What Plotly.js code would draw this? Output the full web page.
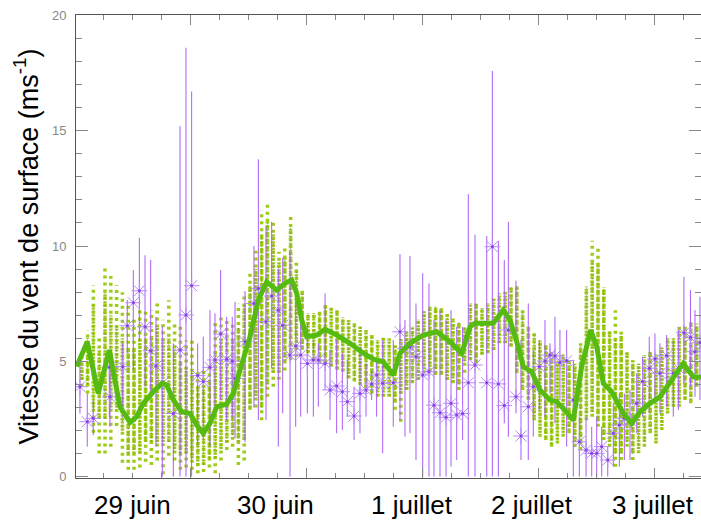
<!DOCTYPE html>
<html><head><meta charset="utf-8">
<script src="https://cdn.plot.ly/plotly-3.0.1.min.js"></script>
<style>html,body{margin:0;padding:0;background:#fff}#chart{width:701px;height:520px}</style>
</head><body><div id="chart"></div>
<script>
// x in days from the left edge of the plot (28 juin ~ 24h)
const dayLabels = ['29 juin','30 juin','1 juillet','2 juillet','3 juillet'];
const dayLabelPos = [0.491,1.716,2.897,3.931,4.974];
const yTickVals = [0,5,10,15,20];

// ensemble columns
const ensT = [0.05,0.10,0.15,0.20,0.25,0.30,0.35,0.40,0.45,0.50,
0.55,0.60,0.65,0.70,0.75,0.80,0.85,0.90,0.95,1.00,
1.05,1.10,1.15,1.20,1.25,1.30,1.35,1.40,1.45,1.50,
1.55,1.60,1.65,1.70,1.75,1.80,1.85,1.90,1.95,2.00,
2.05,2.10,2.15,2.20,2.25,2.30,2.35,2.40,2.45,2.50,
2.55,2.60,2.65,2.70,2.75,2.80,2.85,2.90,2.95,3.00,
3.05,3.10,3.15,3.20,3.25,3.30,3.35,3.40,3.45,3.50,
3.55,3.60,3.65,3.70,3.75,3.80,3.85,3.90,3.95,4.00,
4.05,4.10,4.15,4.20,4.25,4.30,4.35,4.40,4.45,4.50,
4.55,4.60,4.65,4.70,4.75,4.80,4.85,4.90,4.95,5.00,
5.05,5.10,5.15,5.20,5.25,5.30,5.35];
const ensMin = [3.9,3.6,1.9,1.0,1.0,1.3,2.2,0.6,0.3,0.3,
0.4,0.65,0.5,0.7,0.1,0.9,0.7,0.3,0.4,0.3,
0.15,0.2,0.4,0.15,0.7,1.15,1.3,0.5,0.7,2.9,
3.0,2.45,3.46,3.9,4.2,4.6,5.06,5.2,5.5,5.35,
5.06,4.91,4.91,4.77,4.62,4.55,4.26,4.12,3.97,3.83,
3.61,3.46,3.46,3.46,2.9,2.38,3.76,4.05,4.19,4.48,
4.55,4.41,4.41,4.19,4.05,3.76,4.5,5.06,4.91,5.3,
5.35,5.49,5.78,5.78,5.63,4.48,3.76,3.32,2.45,1.73,
1.59,1.30,1.44,1.73,1.88,1.30,1.15,2.45,2.6,2.16,
1.59,1.30,0.43,0.72,1.30,0.72,1.01,1.30,1.88,1.44,
2.02,2.74,3.03,3.03,3.32,3.18,3.9];
const ensLo = [4.2,4.0,3.0,2.5,2.5,3.0,3.0,2.0,1.0,1.0,
1.0,1.5,1.5,1.5,1.5,1.5,1.2,1.0,1.0,0.8,
0.5,0.5,0.8,0.8,1.2,1.5,1.8,1.5,1.6,3.0,
3.5,3.0,4.0,4.5,4.5,5.0,5.5,5.5,5.6,5.4,
5.1,5.0,5.0,4.8,4.7,4.6,4.3,4.2,4.0,3.9,
3.7,3.5,3.5,3.5,3.3,3.6,3.8,4.1,4.2,4.5,
4.6,4.5,4.5,4.2,4.1,4.0,5.0,5.1,5.0,5.3,
5.4,5.5,5.8,5.8,5.7,4.6,3.9,3.4,2.6,1.9,
1.7,1.4,1.6,1.9,2.0,1.5,1.4,2.6,2.8,2.4,
1.8,1.5,1.0,1.0,1.5,1.0,1.2,1.5,2.0,1.6,
2.2,2.9,3.2,3.2,3.4,3.3,4.0];
const ensHi = [5.0,6.0,7.5,5.5,8.0,7.0,6.5,6.0,5.5,5.5,
6.0,6.0,6.0,6.5,6.0,6.0,5.5,5.0,4.8,4.5,
4.0,4.0,4.2,5.5,6.0,6.0,6.0,6.5,7.5,8.3,
9.0,10.5,11.1,10.5,9.3,9.5,10.8,9.0,8.0,7.1,
7.1,7.1,7.4,7.3,7.2,6.9,6.7,6.6,6.5,6.3,
6.1,5.9,6.0,5.9,5.7,6.0,6.2,6.5,6.8,7.2,
7.3,7.4,7.3,7.0,6.8,6.7,6.5,7.5,7.5,7.3,
7.5,7.7,7.9,8.0,8.2,8.2,7.2,6.5,6.2,5.9,
5.7,5.4,5.0,5.3,5.0,4.9,5.7,8.2,9.3,9.2,
8.2,6.3,6.0,6.2,5.4,5.0,4.9,5.2,5.4,5.3,
5.6,6.0,6.0,6.4,6.5,6.7,6.6];
const ensMax = [5.2,6.35,8.3,6.1,9.1,8.7,8.3,8.0,7.5,6.9,
7.2,7.2,7.2,7.65,6.8,7.65,6.65,6.5,5.9,6.0,
4.6,4.6,4.8,6.8,6.9,6.8,6.65,7.5,8.0,8.9,
9.8,11.56,11.85,11.05,9.75,9.9,11.27,9.4,8.1,7.15,
7.15,7.15,7.44,7.37,7.22,6.93,6.79,6.65,6.5,6.36,
6.14,5.92,6.07,6.0,5.7,6.0,6.28,6.5,6.86,7.22,
7.37,7.44,7.3,7.08,6.86,6.72,6.6,7.51,7.51,7.37,
7.51,7.73,7.95,8.02,8.24,8.31,7.22,6.5,6.28,5.92,
5.78,5.49,5.06,5.35,5.06,4.91,5.78,8.24,10.23,9.97,
8.24,6.36,7.22,6.28,5.49,5.06,4.91,5.27,5.49,5.35,
5.63,6.07,6.07,6.5,6.57,6.79,6.65];

// ensemble mean
const meanT = [0.006,0.097,0.192,0.287,0.379,0.466,0.523,0.580,0.666,0.744,
0.782,0.839,0.911,0.983,1.041,1.097,1.155,1.213,1.299,1.356,
1.414,1.500,1.572,1.644,1.730,1.802,1.859,1.903,1.946,1.989,
2.075,2.147,2.247,2.362,2.477,2.563,2.649,2.735,2.793,2.879,
2.994,3.109,3.224,3.325,3.397,3.440,3.541,3.597,3.684,3.741,
3.813,3.856,3.928,4.000,4.086,4.144,4.201,4.287,4.359,4.437,
4.489,4.546,4.618,4.718,4.790,4.862,4.948,5.034,5.135,5.235,
5.322,5.388];
const meanV = [4.77,5.85,3.61,5.49,3.03,2.35,2.60,3.18,3.68,4.05,
3.97,3.32,2.81,2.74,2.24,1.88,2.31,3.03,3.15,3.61,
4.62,6.07,7.66,8.45,8.09,8.38,8.53,7.95,6.79,6.07,
6.14,6.39,6.14,5.78,5.35,5.09,4.98,4.41,5.35,5.78,
6.14,6.28,5.85,5.35,6.50,6.65,6.65,6.65,7.22,6.79,
5.63,4.77,4.55,3.76,3.32,3.25,2.96,2.45,4.77,6.36,
5.63,4.05,3.68,2.74,2.31,2.81,3.18,3.46,4.19,4.91,
4.33,4.31];

// observations
const obsT = [0.034,0.097,0.149,0.287,0.293,0.403,0.442,0.494,0.546,0.595,
0.644,0.690,0.744,0.839,0.897,0.948,0.997,1.049,1.097,1.155,
1.198,1.247,1.299,1.347,1.371,1.457,1.534,1.572,1.638,1.687,
1.744,1.782,1.845,1.894,1.937,1.994,2.046,2.089,2.147,2.190,
2.247,2.296,2.339,2.397,2.448,2.500,2.549,2.592,2.644,2.735,
2.793,2.836,2.879,2.931,2.989,3.043,3.086,3.138,3.190,3.233,
3.282,3.333,3.382,3.440,3.541,3.589,3.641,3.692,3.727,3.793,
3.836,3.899,3.942,3.994,4.043,4.086,4.129,4.172,4.230,4.287,
4.339,4.397,4.446,4.489,4.532,4.584,4.632,4.684,4.727,4.776,
4.834,4.885,4.942,4.991,5.034,5.092,5.149,5.193,5.241,5.297,
5.336,5.379];
const obsV = [3.90,2.38,2.53,4.74,3.46,4.77,6.54,7.54,8.06,6.50,
5.46,4.80,4.05,2.74,5.49,7.01,8.28,4.38,4.12,4.74,
5.06,6.18,5.09,5.01,4.26,5.85,7.51,8.16,6.72,7.83,
7.22,6.57,5.27,5.66,5.27,4.91,5.06,5.06,4.91,3.76,
3.93,3.68,3.25,2.63,3.61,3.76,4.02,4.41,4.05,4.07,
6.28,5.56,5.63,5.20,4.41,4.55,3.10,2.77,2.57,3.18,
2.67,2.74,4.07,4.84,4.07,9.97,4.02,3.08,6.36,3.46,
1.76,3.03,3.90,4.77,5.01,5.27,5.23,4.95,5.03,3.32,
1.51,1.15,1.01,1.01,1.30,0.72,1.88,2.24,2.53,2.45,
3.18,4.12,4.70,5.10,4.48,5.24,4.48,4.70,6.24,6.04,
5.42,5.81];
const obsLo = [2.74,1.30,1.80,2.60,2.16,2.60,5.35,4.62,5.92,3.90,
3.61,1.30,0,0,0,0,0,1.30,1.59,1.30,
2.89,3.32,2.45,2.60,1.66,1.50,3.00,2.45,2.45,4.70,
1.30,2.74,0,2.16,2.60,2.74,2.60,3.03,3.76,2.45,
1.88,2.02,2.60,1.59,1.88,2.60,3.32,2.60,1.01,2.16,
2.45,1.73,1.88,0.72,0,0,0,0,0,0.43,
0.72,1.59,0,0,0,0,0,2.31,1.73,2.74,
0.72,0.72,1.73,2.89,2.60,3.61,2.31,3.32,1.30,0,
0,0,0,0,0,0,0.43,0.43,0.72,0.72,
1.88,2.60,2.74,3.32,2.74,3.03,2.60,2.89,4.05,3.90,
3.46,3.32];
const obsHi = [4.91,3.61,3.32,5.35,4.62,5.78,7.66,8.96,10.36,9.60,
9.40,6.93,6.50,5.78,15.2,18.6,16.7,5.78,6.07,7.22,
7.08,8.96,6.93,6.93,7.58,8.04,10.0,13.76,10.84,11.05,
9.00,9.50,9.80,7.95,7.22,6.65,5.92,5.78,7.95,5.49,
5.92,5.35,5.06,3.90,5.63,4.91,4.62,5.06,5.92,5.92,
9.65,6.79,9.57,7.51,8.82,8.38,6.79,7.22,6.79,7.22,
6.50,6.50,12.25,10.50,10.43,17.6,10.23,9.40,11.05,8.50,
5.92,7.51,5.49,5.92,6.79,5.78,6.93,6.36,6.36,5.06,
2.60,2.60,2.16,2.60,2.16,1.30,3.18,3.61,3.61,3.76,
4.48,5.20,6.07,6.21,5.78,6.14,5.92,6.36,8.67,8.09,
7.22,7.80];

function segs(t, a, b) {
  const x = [], y = [];
  for (let i = 0; i < t.length; i++) { x.push(t[i], t[i], null); y.push(a[i], b[i], null); }
  return {x, y};
}
const outer = segs(ensT, ensMin, ensMax);
const core = segs(ensT, ensLo, ensHi);
const obsBars = segs(obsT, obsLo, obsHi);

const FONT = 'Liberation Sans, Arial, sans-serif';
const traces = [
  {x: outer.x, y: outer.y, mode: 'lines', type: 'scatter',
   line: {color: '#9ccc14', width: 3.5, dash: '3px,4px'}},
  {x: core.x, y: core.y, mode: 'lines', type: 'scatter',
   line: {color: '#9ccc14', width: 3.5, dash: '2px,1.5px'}},
  {x: core.x, y: core.y, mode: 'lines', type: 'scatter',
   line: {color: 'rgba(125,115,85,0.5)', width: 1, dash: '2px,2px'}},
  {x: obsBars.x, y: obsBars.y, mode: 'lines', type: 'scatter',
   line: {color: '#a95cf6', width: 1}},
  {x: obsT, y: obsV, mode: 'markers', type: 'scatter',
   marker: {symbol: 'asterisk-open', size: 13, color: '#b58af8', line: {color: '#b58af8', width: 1}}},
  {x: obsT, y: obsV, mode: 'markers', type: 'scatter',
   marker: {symbol: 'circle', size: 3, color: '#8a3ee6'}},
  {x: meanT, y: meanV, mode: 'lines', type: 'scatter',
   line: {color: '#55bb11', width: 5}}
];

const annotations = dayLabels.map((t, i) => ({
  text: t, x: dayLabelPos[i], xref: 'x', y: 0, yref: 'paper',
  yanchor: 'top', xanchor: 'center', yshift: -11, borderpad: 0, showarrow: false,
  font: {family: FONT, size: 26, color: '#000'}
}));
annotations.push({
  text: 'Vitesse du vent de surface (ms<sup>-1</sup>)', xref: 'paper', yref: 'paper',
  x: 0, y: 0.5, xshift: -50, textangle: -90, showarrow: false,
  xanchor: 'center', yanchor: 'middle',
  font: {family: FONT, size: 27, color: '#000'}
});

const layout = {
  width: 701, height: 520,
  margin: {l: 76, r: 0, t: 15, b: 42},
  paper_bgcolor: '#fff', plot_bgcolor: '#fff',
  showlegend: false, hovermode: false,
  xaxis: {range: [0, 5.388], showgrid: false, zeroline: false,
    showline: true, linecolor: '#555', linewidth: 1, mirror: 'ticks',
    ticks: 'inside', tick0: 0.991, dtick: 1, ticklen: 10, tickcolor: '#888', tickwidth: 1,
    showticklabels: false,
    minor: {tick0: 0.991, dtick: 0.25, ticks: 'inside', ticklen: 5, tickcolor: '#888', tickwidth: 1}},
  yaxis: {range: [-0.06, 20.02], showgrid: false, zeroline: false,
    showline: true, linecolor: '#555', linewidth: 1, mirror: 'ticks',
    ticks: 'inside', tickvals: yTickVals, ticklen: 12, tickcolor: '#888', tickwidth: 1,
    tickfont: {family: FONT, size: 13, color: '#888'}, ticklabelstandoff: 6,
    minor: {dtick: 1, ticks: 'inside', ticklen: 6, tickcolor: '#888', tickwidth: 1}},
  annotations: annotations
};
Plotly.newPlot('chart', traces, layout, {staticPlot: true, displayModeBar: false});
</script>
</body></html>
